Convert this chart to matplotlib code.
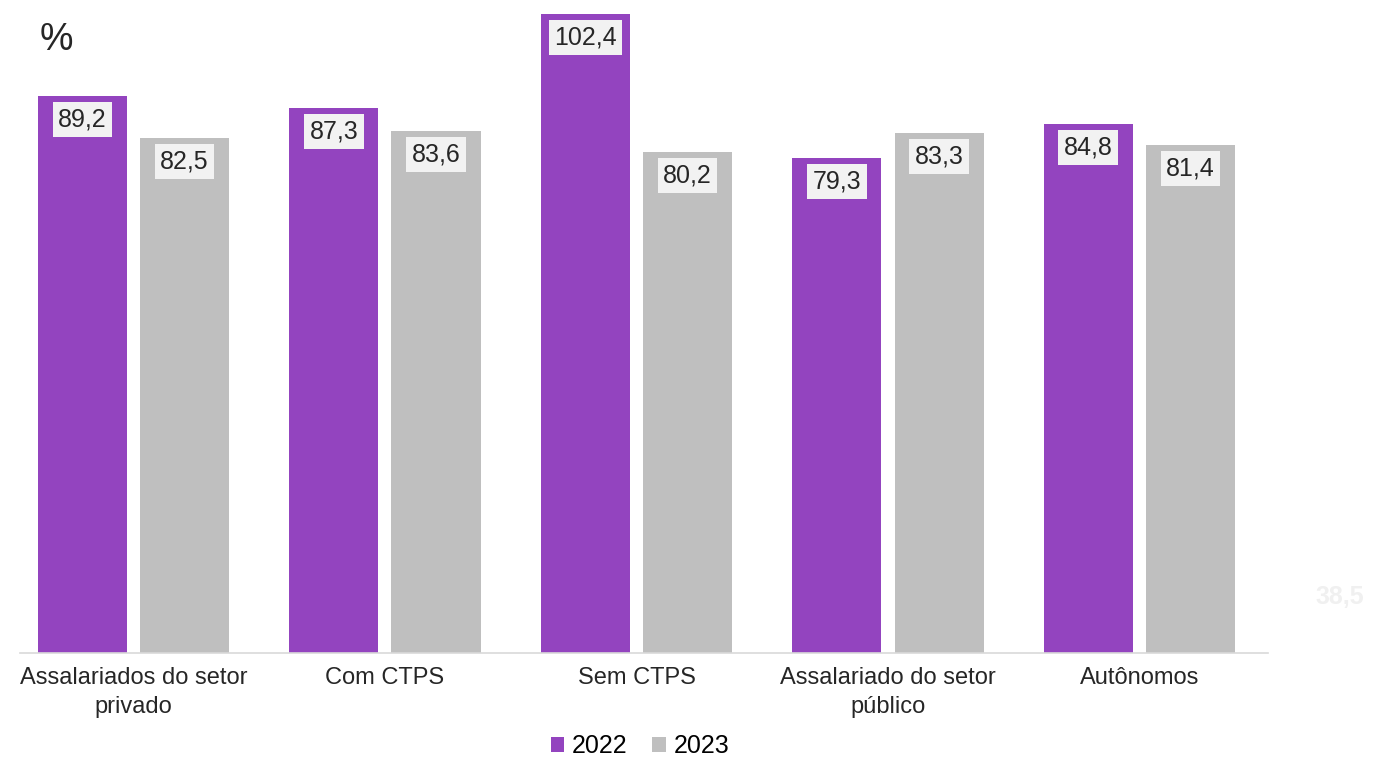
import numpy as np
import matplotlib
matplotlib.use("Agg")
import matplotlib.pyplot as plt

plt.rcParams['font.family'] = ['Liberation Sans', 'DejaVu Sans']

# data
categories = ['Assalariados do setor\nprivado', 'Com CTPS', 'Sem CTPS',
              'Assalariado do setor\npúblico', 'Autônomos']
values_2022 = [89.2, 87.3, 102.4, 79.3, 84.8]
values_2023 = [82.5, 83.6, 80.2, 83.3, 81.4]
series_names = ['2022', '2023']

purple = '#9344bf'
grey = '#bfbfbf'

fig = plt.figure(figsize=(13.77, 7.63), dpi=100)
ax = fig.add_axes([20/1377, 110/763, 1248/1377, 653/763])

x = np.arange(len(categories))
w = 0.354
off = 0.203
b1 = ax.bar(x - off, values_2022, w, color=purple, label=series_names[0])
b2 = ax.bar(x + off, values_2023, w, color=grey, label=series_names[1])

def fmt(v):
    return f'{v:.1f}'.replace('.', ',')

# value labels in light boxes just inside the bar tops
for bars, vals in [(b1, values_2022), (b2, values_2023)]:
    for rect, v in zip(bars, vals):
        ax.annotate(fmt(v), (rect.get_x() + rect.get_width()/2, v),
                    xytext=(0, -17), textcoords='offset points',
                    ha='center', va='center', fontsize=18, color='#262626',
                    bbox=dict(boxstyle='square,pad=0.22', fc='#f2f2f2', ec='none'))

ax.set_xlim(-0.451, 4.511)
ax.set_ylim(0, 104.6)
ax.set_xticks(x)
ax.set_xticklabels(categories, fontsize=17, color='#262626', linespacing=1.4)
ax.tick_params(axis='x', length=0, pad=10)
ax.set_yticks([])
for s in ['top', 'right', 'left']:
    ax.spines[s].set_visible(False)
ax.spines['bottom'].set_color('#d9d9d9')
ax.spines['bottom'].set_linewidth(1.2)

fig.text(40/1377, 1 - 40/763, '%', fontsize=27, color='#262626', va='center')
# faint leftover label at the right edge
fig.text(1340/1377, 1 - 597/763, '38,5', fontsize=18, color='#f0f0f0',
         ha='center', va='center', fontweight='bold')

fig.legend(loc='center', bbox_to_anchor=(640/1377, 1 - 746/763), ncol=2,
           frameon=False, fontsize=18, handlelength=0.55, handleheight=0.55,
           handletextpad=0.3, columnspacing=1.0)

fig.savefig('out.png', dpi=100)
